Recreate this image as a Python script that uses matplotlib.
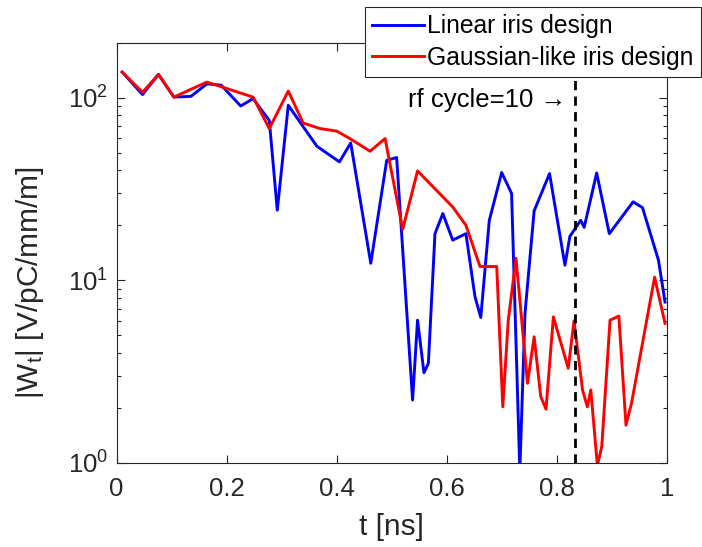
import numpy as np
import matplotlib
matplotlib.use("Agg")
from matplotlib import pyplot as plt

plt.rcParams['font.family'] = ['Liberation Sans', 'DejaVu Sans']
plt.rcParams['mathtext.fontset'] = 'custom'
plt.rcParams['mathtext.rm'] = 'Liberation Sans'
plt.rcParams['mathtext.it'] = 'Liberation Sans'
plt.rcParams['mathtext.default'] = 'regular'

# linear iris design (blue)
t_linear = [0.010, 0.047, 0.076, 0.104, 0.135, 0.164, 0.190, 0.2255, 0.248, 0.2775,
            0.292, 0.312, 0.364, 0.405, 0.4255, 0.462, 0.491, 0.509, 0.538, 0.547,
            0.5587, 0.5667, 0.5787, 0.593, 0.611, 0.635, 0.6515, 0.662, 0.6775, 0.700,
            0.718, 0.733, 0.7424, 0.759, 0.787, 0.815, 0.824, 0.8436, 0.850, 0.8727,
            0.8957, 0.939, 0.956, 0.985, 0.997]
w_linear = [138, 104, 134, 100.7, 101.6, 119, 117, 90, 98.8, 75,
            24.2, 90.8, 54.2, 44.5, 56.5, 12.4, 45.4, 47, 2.21, 6.05,
            3.12, 3.51, 18.0, 23.2, 16.6, 18.0, 8.12, 6.26, 21.3, 38.9,
            29.9, 0.9, 6.59, 24.0, 38.4, 12.1, 17.4, 21.3, 19.5, 38.7,
            18.0, 26.9, 25.0, 12.9, 7.6]

# gaussian-like iris design (red)
t_gauss = [0.010, 0.047, 0.076, 0.104, 0.164, 0.248, 0.2775, 0.312, 0.339, 0.370,
           0.400, 0.424, 0.4606, 0.488, 0.520, 0.547, 0.611, 0.635, 0.6606, 0.691,
           0.702, 0.712, 0.726, 0.747, 0.759, 0.771, 0.7806, 0.794, 0.821, 0.8315,
           0.847, 0.8557, 0.862, 0.874, 0.882, 0.897, 0.913, 0.926, 0.936, 0.978,
           0.997]
w_gauss = [138, 107, 134, 100.7, 121.7, 100.7, 67.7, 108.7, 72.6, 67.7,
           65.6, 59.7, 50.9, 59.7, 19.0, 39.7, 25.2, 20.0, 11.9, 11.9,
           2.03, 6.05, 13.2, 2.73, 4.91, 2.31, 1.97, 6.31, 3.30, 6.0,
           2.51, 2.03, 2.51, 0.97, 1.23, 6.05, 6.37, 1.61, 2.12, 10.4,
           5.81]

rf_cycle_t = 10 / 12.0          # 10th rf cycle
fs_tick = 18.5
fs_lab = 21.5
fs_leg = 17.7
dark = '#262626'

fig = plt.figure(figsize=(7.02, 5.47), dpi=100)
ax = fig.add_axes([0.1662, 0.1536, 0.7835, 0.7684])

ax.plot(t_linear, w_linear, color=(0, 0, 1), lw=2.1, label='Linear iris design')
ax.plot(t_gauss, w_gauss, color=(1, 0, 0), lw=2.1, label='Gaussian-like iris design')
ax.axvline(rf_cycle_t, color='k', ls='--', lw=2, dashes=(3.3, 2.3))
ax.text(0.818, 97, 'rf cycle=10 →', ha='right', va='center', fontsize=fs_tick, color='k')

ax.set_yscale('log')
ax.set_xlim(0, 1)
ax.set_ylim(1, 200)
ax.set_xticks([0, 0.2, 0.4, 0.6, 0.8, 1])
ax.set_xticklabels(['0', '0.2', '0.4', '0.6', '0.8', '1'])

ax.tick_params(which='both', direction='in', top=True, right=True, colors=dark,
               labelsize=fs_tick, width=0.8)
ax.tick_params(which='major', length=6)
ax.tick_params(which='minor', length=3)
ax.tick_params(axis='x', which='major', pad=10)
ax.tick_params(axis='y', which='major', pad=6)
for sp in ax.spines.values():
    sp.set_color(dark)
    sp.set_linewidth(0.8)

ax.set_xlabel('t [ns]', fontsize=fs_lab, color=dark)
ax.xaxis.set_label_coords(0.5, -0.118)
ax.set_ylabel('|W$_t$| [V/pC/mm/m]', fontsize=fs_lab, color=dark)
ax.yaxis.set_label_coords(-0.129, 0.43)

leg = ax.legend(loc='upper right', bbox_to_anchor=(701 / 702, 1 - 7 / 547),
                bbox_transform=fig.transFigure, borderaxespad=0, fontsize=fs_leg,
                fancybox=False, framealpha=1, edgecolor=dark, handlelength=2.1,
                handletextpad=0.15, labelspacing=0.3, borderpad=0.3, handleheight=0.7)
leg.get_frame().set_linewidth(0.8)

fig.savefig('out.png', dpi=100)
